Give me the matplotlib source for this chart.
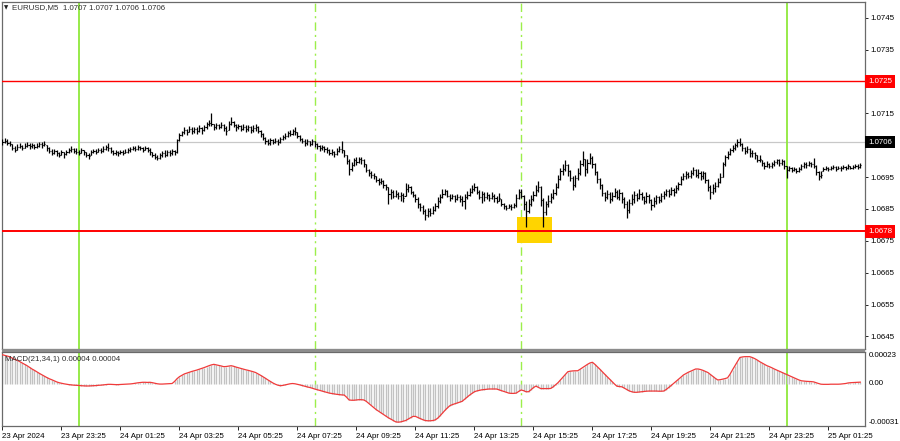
import numpy as np
import matplotlib
matplotlib.use("Agg")
import matplotlib.pyplot as plt
from matplotlib.patches import Rectangle
from matplotlib.transforms import blended_transform_factory

# ----------------------------------------------------------------------
# EURUSD M5, 23 Apr 2024 21:25 -> 25 Apr 2024 ~02:30 (one entry per bar)
# prices are stored in pips relative to 1.0700
BASE = 1.0700
PIP = 1e-4

close_pips = [
    6.0, 6.4, 5.8, 5.5,
    4.2, 3.6,
    4.4, 4.8, 4.2, 4.9, 5.2, 4.6, 5.0, 4.5, 4.8, 5.3, 5.0, 5.4,
    4.0, 3.2, 2.6, 3.2, 2.4, 2.0, 2.8, 2.2, 3.0, 3.4, 3.8, 3.2,
    3.0, 2.6, 3.4, 2.8, 2.0, 1.6,
    2.8, 3.2, 3.0, 3.6, 3.2, 3.8, 4.4, 4.0, 3.2, 2.6, 2.8, 2.4,
    3.0, 2.6, 3.0, 3.4, 3.8, 4.2, 3.8, 4.4, 4.0, 3.6, 4.2, 3.6,
    2.8, 2.0, 1.4, 1.0, 1.8, 2.4, 2.0,
    2.8, 2.4, 3.2, 2.8,
    6.6, 8.2,
    9.0, 9.8, 9.2, 10.2, 9.6, 10.0, 9.4, 10.4, 9.8, 10.6, 11.6, 12.0, 11.6,
    10.6, 11.2, 10.8, 11.4, 10.4, 9.6, 11.8, 12.4,
    11.2, 10.6, 11.0, 10.2, 10.8, 10.0, 10.6, 9.8, 10.4, 10.8,
    9.4, 8.6, 7.4, 6.4, 5.8, 6.6, 6.0, 6.4, 6.0, 6.8,
    7.6, 8.0, 8.8, 8.4, 9.4, 9.0,
    8.0, 7.0, 6.4, 5.6, 6.2, 5.4, 6.2,
    5.4, 4.6, 4.0, 4.4, 3.8, 3.4, 2.6, 3.0, 2.2, 3.2, 3.8, 3.4,
    1.8, 0.0, -2.6, -1.2, 0.2, -0.4, 0.6, 0.2, -1.0,
    -2.8, -3.6, -4.2, -4.8,
    -5.8, -6.6, -6.2, -7.6, -8.2,
    -10.4, -9.8, -10.8, -10.2, -11.0, -10.6, -11.6,
    -8.6, -8.0,
    -9.8, -10.6, -12.0, -13.6, -14.4,
    -15.6, -16.8, -15.8, -16.4, -15.2,
    -14.0, -12.6, -11.2,
    -10.2, -9.4, -10.8, -11.6, -11.0, -12.0, -11.2, -11.8, -12.4, -11.4,
    -10.6, -9.6, -8.6, -8.0, -9.6, -11.2,
    -10.4, -11.4, -10.6, -11.6, -10.8, -11.6, -12.4, -11.6,
    -13.4, -14.2, -14.6, -14.0, -14.4, -13.8,
    -11.6, -9.6, -10.8,
    -13.6, -15.8,
    -13.4, -11.8, -10.6, -9.0, -8.0,
    -12.2, -16.0, -13.6,
    -12.4, -11.2, -10.0,
    -8.0, -5.6, -3.2, -2.4, -1.2,
    -3.2, -5.2, -7.4, -5.4,
    -3.6, -1.0, 0.8, -2.4, -0.6, 1.0, -0.8,
    -3.4, -5.6, -7.6,
    -10.0, -11.2, -10.2, -12.0, -10.8, -9.6, -11.4, -10.0, -11.8,
    -13.6, -15.4, -13.0, -12.0,
    -10.6, -11.6, -10.2, -11.4, -12.4, -11.0, -12.2,
    -13.8, -12.6, -11.4, -12.2, -11.0,
    -10.4, -9.4, -10.2, -9.2, -9.6, -8.4, -7.2,
    -5.6, -4.8, -4.0, -4.6,
    -3.8, -2.8, -4.2, -3.6, -4.6, -3.8,
    -5.8, -8.0, -9.6, -8.4,
    -7.8, -6.4, -5.0,
    -1.0, 1.4, 2.2, 3.4,
    4.2, 5.0, 6.0, 5.4,
    4.2, 3.2, 3.8, 2.4,
    2.6, 1.8, 0.4, 0.8,
    -0.6, -1.4, -0.8, -1.6, -1.0, -0.4,
    0.2, -0.6, 0.0, -1.6,
    -2.8, -2.2, -2.8, -2.4, -3.0, -2.6,
    -1.6, -0.8, -1.2, -0.6, -1.0, -1.4,
    -3.4, -4.8, -4.2,
    -2.4, -2.0, -2.6, -2.2, -1.8, -2.4, -2.0, -2.2,
    -1.8, -2.2, -1.6, -2.0, -1.8, -1.4, -1.8, -1.2,
]

high_pips = [
    7.0, 7.2, 6.8, 6.2,
    5.4, 4.6,
    5.4, 5.6, 5.2, 5.8, 6.0, 5.6, 5.8, 5.4, 5.6, 6.1, 5.9, 6.4,
    5.0, 4.4, 3.8, 3.9, 3.4, 3.0, 3.4, 3.0, 3.6, 4.2, 4.6, 4.2,
    4.0, 3.6, 4.0, 3.6, 3.0, 2.6,
    3.4, 3.8, 3.8, 4.2, 4.0, 4.6, 5.2, 5.6, 4.4, 3.6, 3.4, 3.2,
    3.6, 3.4, 3.8, 4.0, 4.4, 4.8, 4.6, 5.0, 4.8, 4.4, 4.8, 4.4,
    4.0, 3.0, 2.4, 2.0, 2.6, 3.2, 3.4,
    3.6, 3.4, 3.8, 3.6,
    7.0, 8.8,
    9.6, 10.6, 10.2, 11.0, 10.6, 10.8, 10.6, 11.2, 10.8, 11.4, 12.2, 13.0, 15.0,
    11.8, 12.0, 11.8, 12.2, 11.6, 11.0, 12.6, 14.0,
    12.6, 11.6, 11.8, 11.4, 11.6, 11.2, 11.4, 11.0, 11.2, 11.6,
    11.0, 9.8, 8.8, 7.6, 7.0, 7.2, 7.0, 7.2, 7.0, 7.6,
    8.2, 8.8, 9.4, 9.8, 10.0, 10.6,
    9.2, 8.2, 7.4, 6.8, 6.8, 6.4, 7.0,
    6.2, 5.8, 5.0, 5.2, 4.8, 4.4, 3.8, 3.8, 3.2, 4.0, 4.6, 6.2,
    3.6, 2.0, 0.6, -0.2, 1.0, 1.2, 1.4, 1.2, 0.6,
    -0.8, -2.6, -3.2, -3.8,
    -4.6, -5.4, -5.4, -6.0, -7.2,
    -8.0, -8.6, -9.0, -9.2, -9.6, -9.6, -10.0,
    -7.0, -7.2,
    -7.8, -9.4, -10.2, -11.4, -13.0,
    -13.8, -15.0, -14.6, -14.8, -14.0,
    -13.0, -11.4, -10.2,
    -8.8, -8.6, -9.0, -10.2, -10.2, -10.6, -10.4, -10.6, -11.0, -10.4,
    -9.4, -8.4, -7.6, -6.8, -7.8, -9.2,
    -9.4, -9.8, -9.6, -10.2, -9.6, -10.2, -11.0, -10.0,
    -11.8, -13.2, -13.8, -13.4, -13.6, -13.0,
    -10.4, -8.6, -8.8,
    -10.6, -12.4,
    -12.0, -10.6, -9.4, -7.6, -6.2,
    -7.8, -11.6, -12.4,
    -10.6, -10.0, -8.6,
    -6.8, -4.4, -2.0, -0.8, 0.2,
    -0.8, -2.8, -4.6, -4.2,
    -2.2, 0.4, 3.2, 0.6, 0.8, 2.4, 1.6,
    -0.6, -3.0, -5.2,
    -7.2, -9.6, -9.0, -9.8, -9.6, -8.4, -9.0, -8.6, -9.6,
    -11.2, -12.6, -11.8, -10.4,
    -9.4, -10.0, -8.8, -9.6, -10.8, -9.8, -10.4,
    -11.8, -11.4, -10.6, -10.8, -10.0,
    -9.4, -8.6, -8.8, -8.2, -8.4, -7.6, -6.4,
    -4.6, -3.8, -3.2, -3.4,
    -2.8, -1.8, -2.6, -2.6, -3.2, -3.0,
    -3.4, -5.6, -7.4, -7.2,
    -6.6, -5.2, -3.8,
    -0.2, 2.0, 3.2, 4.0,
    5.0, 5.8, 7.0, 7.2,
    5.6, 4.4, 4.6, 4.2,
    3.4, 3.0, 1.8, 1.8,
    0.4, -0.4, 0.0, -0.6, -0.2, 0.4,
    0.8, 0.6, 0.8, 0.2,
    -1.4, -1.6, -1.8, -1.8, -2.0, -1.8,
    -0.8, -0.2, -0.4, 0.0, -0.2, 1.0,
    -1.2, -3.0, -3.2,
    -1.8, -1.4, -1.8, -1.6, -1.2, -1.6, -1.4, -1.6,
    -1.2, -1.4, -1.0, -1.4, -1.2, -0.8, -1.0, -0.6,
]

low_pips = [
    5.2, 5.6, 5.0, 4.8,
    3.6, 2.8,
    3.6, 4.0, 3.4, 4.0, 4.4, 3.8, 4.2, 3.8, 4.0, 4.4, 4.2, 4.6,
    3.2, 2.4, 1.8, 2.3, 1.6, 1.2, 1.8, 1.0, 2.0, 2.6, 3.0, 2.6,
    2.2, 1.8, 2.4, 2.0, 1.4, 0.8,
    2.0, 2.6, 2.2, 2.8, 2.6, 3.0, 3.4, 3.2, 2.4, 1.8, 2.0, 1.6,
    2.2, 1.8, 2.4, 2.6, 3.0, 3.4, 3.2, 3.6, 3.4, 2.8, 3.4, 2.8,
    2.0, 1.2, 0.6, 0.2, 0.8, 1.4, 1.2,
    1.6, 1.6, 2.0, 1.8,
    2.6, 6.2,
    7.8, 8.6, 8.2, 9.0, 8.6, 8.8, 8.4, 9.2, 8.6, 9.4, 10.2, 11.0, 11.0,
    9.8, 10.2, 10.0, 10.4, 9.4, 8.2, 9.8, 11.2,
    10.6, 9.6, 10.2, 9.4, 9.8, 9.0, 9.6, 8.8, 9.2, 9.4,
    8.8, 7.6, 6.6, 5.4, 5.0, 5.2, 5.4, 5.6, 5.2, 5.8,
    6.6, 7.0, 7.6, 7.8, 8.2, 8.2,
    7.4, 6.4, 5.6, 4.8, 5.2, 4.6, 5.2,
    4.4, 3.8, 3.2, 3.4, 2.8, 2.6, 1.8, 1.8, 1.2, 2.0, 2.8, 2.6,
    1.2, -0.8, -4.4, -3.0, -1.6, -1.2, -0.6, -0.8, -1.8,
    -3.4, -4.6, -5.2, -5.6,
    -6.6, -7.4, -7.2, -8.4, -9.0,
    -13.6, -11.8, -11.6, -11.4, -12.0, -12.4, -12.8,
    -11.0, -9.6,
    -10.4, -11.4, -12.8, -14.6, -15.6,
    -16.6, -18.6, -17.6, -17.2, -16.6,
    -15.8, -14.6, -13.0,
    -11.6, -10.6, -11.4, -12.4, -12.0, -12.8, -12.2, -12.8, -14.2, -15.0,
    -11.8, -11.0, -10.0, -9.4, -10.4, -12.0,
    -13.0, -12.4, -11.8, -12.6, -12.0, -12.8, -13.2, -12.6,
    -14.2, -15.0, -15.4, -14.8, -15.2, -14.8,
    -14.4, -12.0, -11.6,
    -15.2, -20.8,
    -16.4, -14.0, -12.6, -11.0, -9.6,
    -14.0, -20.8, -17.0,
    -14.4, -13.2, -12.0,
    -10.6, -8.4, -5.8, -4.4, -3.0,
    -4.6, -6.2, -9.2, -8.0,
    -6.0, -4.2, -1.6, -4.6, -3.6, -1.0, -2.0,
    -4.4, -6.8, -8.6,
    -11.0, -12.4, -12.0, -13.0, -12.6, -11.4, -12.0, -12.2, -13.0,
    -14.6, -17.8, -16.2, -13.8,
    -13.0, -12.4, -12.0, -12.2, -13.4, -13.0, -13.2,
    -15.2, -14.4, -13.4, -13.0, -12.8,
    -12.0, -11.0, -11.2, -10.6, -10.8, -10.0, -9.0,
    -7.6, -6.0, -5.6, -5.4,
    -5.2, -4.4, -5.0, -5.4, -6.0, -5.6,
    -7.0, -9.4, -11.8, -10.2,
    -9.6, -8.2, -7.0,
    -5.0, -1.4, 0.6, 1.8,
    2.8, 3.6, 4.4, 4.6,
    3.2, 2.2, 2.6, 1.2,
    1.2, 0.6, -0.4, -0.2,
    -1.6, -2.4, -1.8, -2.2, -2.0, -1.4,
    -1.0, -1.4, -1.2, -2.4,
    -5.2, -3.2, -3.4, -3.2, -3.6, -3.4,
    -2.8, -2.0, -2.0, -1.6, -1.8, -2.2,
    -4.4, -6.0, -5.4,
    -3.0, -2.8, -3.0, -2.8, -2.6, -3.0, -2.6, -3.0,
    -2.4, -2.8, -2.4, -2.6, -2.4, -2.2, -2.4, -2.0,
]

# MACD(21,34,1) main line, units of 1e-5
macd_e5 = [
    21, 20.5, 20, 19.5, 18.5, 17.5, 17, 16,
    15, 14, 13, 11.8, 10.6, 9.6, 8.5, 7.4,
    6.4, 5.4, 4.4, 3.5, 2.8, 2.0, 1.2, 0.6,
    0.2, -0.2, -0.5, -0.8, -1.0, -1.2, -1.3, -1.4,
    -1.6, -1.7, -1.8, -1.8, -1.7, -1.6, -1.5, -1.3,
    -1.2, -1.0, -0.8, -0.6, -0.6, -0.7, -0.8, -0.8,
    -0.7, -0.6, -0.5, -0.4, -0.3, -0.1, 0.2, 0.5,
    0.7, 0.9, 0.9, 0.8, 0.9, 0.6, 0.2, -0.2,
    -0.4, -0.4, -0.3, -0.2, -0.1, 0.0, 1.5, 3.5,
    5.0, 6.0, 7.0, 7.6, 8.2, 8.8, 9.3, 9.8,
    10.4, 11.0, 11.6, 12.3, 13.0, 13.6, 14.0, 13.6,
    13.2, 12.8, 12.3, 12.4, 12.7, 13.0, 12.6, 12.0,
    11.5, 11.0, 10.5, 10.0, 9.6, 9.1, 8.6, 8.0,
    7.0, 6.0, 4.9, 3.8, 2.6, 1.5, 0.4, -0.5,
    -1.2, -1.6, -1.4, -1.0, -0.6, -0.2, 0.0, -0.2,
    -0.6, -1.0, -1.5, -2.0, -2.5, -2.9, -3.4, -4.0,
    -4.5, -5.0, -5.5, -6.0, -6.5, -7.0, -7.3, -7.6,
    -7.9, -8.1, -8.3, -8.4, -10.0, -12.0, -12.2, -12.2,
    -12.0, -11.8, -11.8, -12.0, -13.0, -14.5, -16.0, -17.5,
    -19.0, -20.2, -21.4, -22.6, -23.8, -25.0, -26.0, -27.0,
    -28.0, -28.2, -28.0, -27.5, -27.0, -26.0, -25.0, -24.0,
    -24.0, -24.8, -25.6, -26.4, -27.0, -27.2, -27.2, -27.0,
    -26.6, -25.4, -23.6, -21.6, -19.6, -17.8, -16.2, -15.4,
    -14.8, -14.2, -13.6, -13.0, -11.5, -10.0, -8.5, -7.2,
    -6.0, -5.4, -5.0, -4.6, -4.4, -4.2, -4.0, -4.0,
    -4.0, -4.0, -4.6, -5.2, -5.8, -6.4, -7.0, -7.2,
    -7.2, -7.0, -5.8, -4.7, -5.2, -6.0, -6.0, -4.6,
    -3.0, -1.9, -2.8, -3.7, -3.7, -3.7, -3.7, -3.6,
    -2.5, -1.0, 0.6, 2.6, 4.6, 6.6, 8.6, 9.0,
    9.2, 9.3, 9.3, 10.4, 11.6, 12.8, 14.0, 15.0,
    15.5, 14.0, 12.3, 10.5, 8.6, 6.8, 5.0, 3.2,
    1.4, -0.4, -2.0, -2.2, -2.4, -3.4, -4.4, -5.4,
    -6.0, -6.4, -6.4, -6.2, -6.0, -5.8, -5.6, -5.5,
    -5.5, -5.5, -5.5, -5.6, -5.6, -5.5, -4.4, -3.0,
    -1.5, 0.0, 1.5, 3.0, 4.6, 6.2, 7.2, 8.2,
    9.0, 9.8, 10.6, 10.6, 10.2, 9.6, 8.8, 8.0,
    6.6, 5.2, 3.8, 2.6, 2.8, 3.2, 3.6, 4.2,
    6.8, 10.0, 13.0, 16.0, 19.0, 19.4, 19.6, 19.6,
    19.6, 19.0, 18.2, 17.2, 16.0, 15.0, 14.0, 13.0,
    12.3, 11.5, 10.6, 9.8, 9.0, 8.2, 7.4, 6.6,
    5.8, 5.0, 4.2, 3.4, 2.6, 2.0, 1.8, 1.6,
    1.5, 1.4, 1.2, 0.6, 0.0, -0.5, -0.6, -0.6,
    -0.6, -0.5, -0.5, -0.5, -0.5, -0.4, -0.2, 0.0,
    0.4, 0.6, 0.7, 0.8, 0.9, 1.0,
]

time_tick_bars = [0, 24, 48, 72, 96, 120, 144, 168, 192, 216, 240, 264, 288, 312, 336]
time_tick_labels = ["23 Apr 2024", "23 Apr 23:25", "24 Apr 01:25", "24 Apr 03:25",
                    "24 Apr 05:25", "24 Apr 07:25", "24 Apr 09:25", "24 Apr 11:25",
                    "24 Apr 13:25", "24 Apr 15:25", "24 Apr 17:25", "24 Apr 19:25",
                    "24 Apr 21:25", "24 Apr 23:25", "25 Apr 01:25"]
price_ticks = [1.0745, 1.0735, 1.0725, 1.0715, 1.0705, 1.0695,
               1.0685, 1.0675, 1.0665, 1.0655, 1.0645]

day_sep_bars = [31, 319]          # 00:00
session_bars = [127, 211]         # 08:00, 15:00
levels = [1.0725, 1.0678]
bid = 1.0706
zone_bars = (209.5, 223.5)
zone_prices = (1.06742, 1.06824)

header = "EURUSD,M5  1.0707 1.0707 1.0706 1.0706"
macd_label = "MACD(21,34,1) 0.00004 0.00004"
macd_scale = (0.00023, -0.00031)

# ----------------------------------------------------------------------
W, H = 900, 441
FONT = ["Liberation Sans", "DejaVu Sans"]
FS = 5.7
plt.rcParams["font.family"] = FONT

fig = plt.figure(figsize=(W / 100, H / 100), dpi=100)


def px_rect(x0, y0, x1, y1):
    return [x0 / W, 1 - y1 / H, (x1 - x0) / W, (y1 - y0) / H]


ax = fig.add_axes(px_rect(2, 2, 865, 349))
axm = fig.add_axes(px_rect(2, 352, 865, 426), sharex=ax)

idx = np.arange(len(close_pips))
cl = BASE + np.array(close_pips) * PIP
hi = BASE + np.array(high_pips) * PIP
lo = BASE + np.array(low_pips) * PIP
op = np.clip(np.r_[cl[0], cl[:-1]], lo, hi)

ax.vlines(idx, lo, hi, color="black", lw=0.9, zorder=4)
ax.hlines(op, idx - 0.45, idx, color="black", lw=0.8, zorder=4)
ax.hlines(cl, idx, idx + 0.45, color="black", lw=0.8, zorder=4)

ax.set_xlim(-0.2, 350.9)
ax.set_ylim(1.064104, 1.074994)

ax.axhline(bid, color="#c8c8c8", lw=0.9, zorder=1)
for lv in levels:
    ax.axhline(lv, color="#ff0000", lw=1.0 if lv > bid else 1.4, zorder=3)

ax.add_patch(Rectangle((zone_bars[0], zone_prices[0]),
                       zone_bars[1] - zone_bars[0],
                       zone_prices[1] - zone_prices[0],
                       facecolor="#ffd400", edgecolor="none", zorder=2))

for a in (ax, axm):
    for b in day_sep_bars:
        a.axvline(b, color="#8fe83c", lw=1.3, zorder=1)
    for b in session_bars:
        a.axvline(b, color="#9cef4a", lw=1.0, ls=(0, (6, 3, 1.5, 3)), zorder=1)
    for s in a.spines.values():
        s.set_color("#6a6a6a")
        s.set_linewidth(0.9)

# price scale on the right; levels covered by the marker boxes keep only a tick
ax.yaxis.tick_right()
ax.set_yticks(price_ticks)
ax.set_yticklabels(["" if p in (1.0725, 1.0705) else f"{p:.4f}" for p in price_ticks])
ax.tick_params(axis="y", length=2, width=0.6, pad=2, labelsize=FS, colors="black")
ax.tick_params(axis="x", bottom=False, labelbottom=False)

ytr = blended_transform_factory(ax.transAxes, ax.transData)
for val, fc in [(1.0725, "#ff0000"), (bid, "black"), (1.0678, "#ff0000")]:
    ax.text(1.0035, val, f"{val:.4f}", transform=ytr, ha="left", va="center",
            fontsize=FS, color="white", zorder=10, clip_on=False,
            bbox=dict(boxstyle="square,pad=0.35", fc=fc, ec="none"))

fig.text(4.2 / W, 1 - 7.5 / H, "\u25BC", fontsize=4, va="center", ha="left",
         family=["DejaVu Sans"], color="#202020")
fig.text(12.5 / W, 1 - 7.5 / H, header, fontsize=FS, va="center", ha="left",
         color="#303030")

# MACD panel
m = np.array(macd_e5) * 1e-5
axm.vlines(idx, 0, m, color="#c2c2c2", lw=1.0, zorder=2)
axm.plot(idx, m, color="#f03a3a", lw=0.9, zorder=3)
axm.set_ylim(macd_scale[1], macd_scale[0])
axm.set_yticks([])
mtr = blended_transform_factory(axm.transAxes, axm.transData)
axm.text(1.0045, macd_scale[0], f"{macd_scale[0]:.5f}", transform=mtr,
         va="top", ha="left", fontsize=FS)
axm.text(1.0045, 0.0, "0.00", transform=mtr, va="center", ha="left", fontsize=FS)
axm.text(1.0045, macd_scale[1], f"{macd_scale[1]:.5f}", transform=mtr,
         va="bottom", ha="left", fontsize=FS)
axm.text(0.003, 0.95, macd_label, transform=axm.transAxes, va="top", ha="left",
         fontsize=FS, color="#303030")

axm.set_xticks(time_tick_bars)
axm.set_xticklabels(time_tick_labels)
axm.tick_params(axis="x", length=3, width=0.6, pad=2, labelsize=FS)
for lab in axm.get_xticklabels():
    lab.set_horizontalalignment("left")

# separator between the panels
fig.patches.append(Rectangle((2 / W, 1 - 352 / H), 863 / W, 3 / H,
                             transform=fig.transFigure, fc="#8c8c8c", ec="none"))

fig.savefig("out.png", dpi=100, facecolor="white")
